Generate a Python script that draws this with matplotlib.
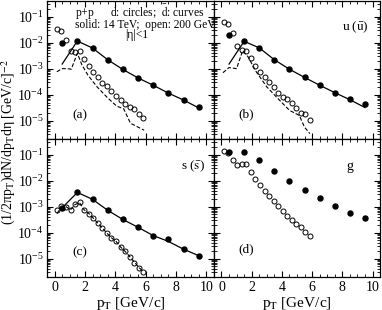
"""d / dbar / u / s / g spectra in p+p, 14 TeV vs 200 GeV"""

import numpy as np
import matplotlib
matplotlib.use("Agg")
import matplotlib.pyplot as plt
from matplotlib.ticker import LogLocator, MultipleLocator, NullFormatter

plt.rcParams["font.family"] = ["Liberation Serif", "DejaVu Serif"]
plt.rcParams["mathtext.fontset"] = "stix"

# pT grids
pt_lhc = [0.5, 1.5, 2.5, 3.5, 4.5, 5.5, 6.5, 7.5, 8.5, 9.5]
pt_rhic = [0.15, 0.45, 0.75, 1.05, 1.35, 1.65, 1.95, 2.25, 2.55, 2.85,
           3.15, 3.45, 3.75, 4.05, 4.35, 4.65, 4.95, 5.25, 5.55, 5.85]

# (a) d / dbar
a_d14 = [1.0e-2, 1.15e-2, 6.2e-3, 2.2e-3, 9.3e-4, 4.4e-4, 2.3e-4, 1.2e-4, 6.4e-5, 3.4e-5]
a_dbar14 = [1.5e-3, 1.15e-2, 6.2e-3, 2.2e-3, 9.3e-4, 4.4e-4, 2.3e-4, 1.15e-4, 6.2e-5, 3.1e-5]
a_d200 = [3.3e-2, 2.9e-2, 1.3e-2, 4.8e-3, 4.5e-3, 4.9e-3, 2.3e-3, 1.26e-3, 7.6e-4, 4.6e-4,
          2.7e-4, 2.1e-4, 1.35e-4, 8.7e-5, 6.1e-5, 4.3e-5, 3.4e-5, 2.7e-5, 1.85e-5, 1.27e-5]
a_dbar200_pt = [0.15, 0.5, 0.85, 1.1, 1.5, 1.8, 2.2, 2.8, 3.45, 4.1, 4.55, 5.0, 5.9]
a_dbar200 = [7.6e-4, 1.0e-3, 1.0e-3, 9.5e-4, 3.9e-3, 1.4e-3, 5.6e-4, 2.0e-4, 8.0e-5,
             3.6e-5, 2.9e-5, 8.0e-6, 4.3e-6]

# (b) u / ubar
b_u14 = [2.0e-2, 1.12e-2, 6.3e-3, 2.2e-3, 9.5e-4, 4.6e-4, 2.3e-4, 1.2e-4, 6.6e-5, 4.4e-5]
b_ubar14 = [1.5e-3, 1.12e-2, 6.3e-3, 2.2e-3, 9.5e-4, 4.6e-4, 2.3e-4, 1.2e-4, 6.4e-5, 3.2e-5]
b_u200 = [6.2e-2, 5.4e-2, 2.3e-2, 7.4e-3, 5.1e-3, 4.9e-3, 2.6e-3, 1.26e-3, 7.6e-4, 4.7e-4,
          3.0e-4, 1.9e-4, 1.2e-4, 7.8e-5, 6.8e-5, 4.8e-5, 3.2e-5, 2.0e-5, 1.8e-5, 1.1e-5]
b_ubar200_pt = [0.1, 0.5, 1.0, 1.4, 1.75, 2.3, 3.0, 3.65, 4.5, 5.15, 5.5, 5.85]
b_ubar200 = [7.0e-4, 1.1e-3, 1.0e-3, 4.9e-3, 2.9e-3, 7.6e-4, 2.0e-4, 8.0e-5, 2.5e-5,
             1.6e-5, 5.6e-6, 3.2e-6]

# (c) s / sbar
c_s14 = [9.1e-4, 3.5e-3, 1.9e-3, 7.2e-4, 3.2e-4, 1.6e-4, 7.7e-5, 5.6e-5, 2.3e-5, 1.3e-5]
c_sbar14 = [9.0e-4, 3.5e-3, 1.9e-3, 7.2e-4, 3.2e-4, 1.6e-4, 7.7e-5, 4.6e-5, 2.3e-5, 1.3e-5]
c_s200 = [7.6e-4, 1.1e-3, 1.0e-3, 7.2e-4, 1.3e-3, 1.45e-3, 7.2e-4, 5.4e-4, 3.6e-4, 2.3e-4,
          1.5e-4, 9.5e-5, 6.3e-5, 4.7e-5, 2.7e-5, 1.9e-5, 1.2e-5, 7.1e-6, 4.5e-6, 3.2e-6]
c_sbar200 = [5.5e-4, 9.0e-4, 1.0e-3, 7.5e-4, 1.2e-3, 1.4e-3, 7.5e-4, 5.5e-4, 3.6e-4, 2.3e-4,
             1.5e-4, 9.5e-5, 6.3e-5, 4.6e-5, 2.8e-5, 1.9e-5, 1.2e-5, 7.5e-6, 4.6e-6, 3.2e-6]

# (d) gluons
d_g14 = [1.3e-1, 1.2e-1, 6.2e-2, 2.3e-2, 9.6e-3, 4.4e-3, 2.1e-3, 1.1e-3, 5.9e-4, 3.6e-4]
d_g200 = [1.4e-1, 1.1e-1, 6.4e-2, 4.0e-2, 4.2e-2, 4.2e-2, 2.1e-2, 1.2e-2, 6.9e-3, 4.0e-3,
          2.5e-3, 1.65e-3, 1.05e-3, 6.8e-4, 4.5e-4, 3.1e-4, 2.2e-4, 1.6e-4, 1.04e-4, 7.3e-5]

fig = plt.figure(figsize=(3.82, 3.10), dpi=100)
w_l, w_r, h = 0.437, 0.435, 0.445
ax_a = fig.add_axes([0.123, 0.552, w_l, h])
ax_b = fig.add_axes([0.560, 0.552, w_r, h])
ax_c = fig.add_axes([0.123, 0.107, w_l, h])
ax_d = fig.add_axes([0.560, 0.107, w_r, h])

filled = dict(ls="none", marker="o", ms=3.6, mfc="black", mec="black")
hollow = dict(ls="none", marker="o", ms=3.6, mfc="none", mec="black", mew=0.7)
solid = dict(color="black", lw=0.9)
dashed = dict(color="black", lw=0.8, ls=(0, (3.5, 1.8)))

ax_a.plot(pt_lhc, a_dbar14, **solid)
ax_a.plot(a_dbar200_pt, a_dbar200, **dashed)
ax_a.plot(pt_lhc, a_d14, **filled)
ax_a.plot(pt_rhic, a_d200, **hollow)

ax_b.plot(pt_lhc, b_ubar14, **solid)
ax_b.plot(b_ubar200_pt, b_ubar200, **dashed)
ax_b.plot(pt_lhc, b_u14, **filled)
ax_b.plot(pt_rhic, b_u200, **hollow)

ax_c.plot(pt_lhc, c_sbar14, **solid)
ax_c.plot(pt_rhic, c_sbar200, **dashed)
ax_c.plot(pt_lhc, c_s14, **filled)
ax_c.plot(pt_rhic, c_s200, **hollow)

ax_d.plot(pt_lhc, d_g14, **filled)
ax_d.plot(pt_rhic, d_g200, **hollow)

for ax in (ax_a, ax_b, ax_c, ax_d):
    ax.set_yscale("log")
    ax.set_xlim(-0.5, 10.5)
    ax.set_ylim(2e-6, 0.4)
    ax.xaxis.set_major_locator(MultipleLocator(2))
    ax.xaxis.set_minor_locator(MultipleLocator(0.5))
    ax.yaxis.set_major_locator(LogLocator(base=10, numticks=12))
    ax.yaxis.set_minor_locator(LogLocator(base=10, subs=np.arange(2, 10), numticks=12))
    ax.yaxis.set_minor_formatter(NullFormatter())
    ax.tick_params(which="both", direction="in", top=True, right=True, labelsize=10)
    ax.tick_params(which="major", length=4, width=0.8)
    ax.tick_params(which="minor", length=2, width=0.6)
    ax.tick_params(axis="x", pad=3)
    ax.tick_params(axis="y", pad=2.5)
    for s in ax.spines.values():
        s.set_linewidth(0.9)

for ax in (ax_a, ax_b):
    ax.tick_params(labelbottom=False)
for ax in (ax_b, ax_d):
    ax.tick_params(labelleft=False)
for ax in (ax_c, ax_d):
    ax.set_xlabel("p$_\\mathrm{T}$ [GeV/c]", fontsize=11)
    ax.xaxis.set_label_coords(0.5, -0.19)
    ax.xaxis.label.set_va("center")

fig.text(0.024, 0.543, "(1/2πp$_\\mathrm{T}$)dN/dp$_\\mathrm{T}$dη [GeV/c]$^{-2}$",
         rotation=90, ha="center", va="center", fontsize=10)

# annotations
txt = dict(fontsize=8.3, transform=ax_a.transAxes, va="center")
ax_a.text(0.165, 0.92, "p+p      d: circles;  $\\bar{\\mathrm{d}}$: curves", **txt)
ax_a.text(0.165, 0.826, "solid: 14 TeV;  open: 200 GeV", **txt)
ax_a.text(0.47, 0.75, "|η|<1", **txt)

ax_b.text(0.77, 0.81, "u ($\\bar{\\mathrm{u}}$)", transform=ax_b.transAxes, fontsize=9.5, va="center")
ax_c.text(0.80, 0.80, "s ($\\bar{\\mathrm{s}}$)", transform=ax_c.transAxes, fontsize=9.5, va="center")
ax_d.text(0.80, 0.80, "g", transform=ax_d.transAxes, fontsize=10, va="center")

ax_a.text(0.15, 0.17, "(a)", transform=ax_a.transAxes, fontsize=9.5, va="center")
ax_b.text(0.15, 0.18, "(b)", transform=ax_b.transAxes, fontsize=9.5, va="center")
ax_c.text(0.15, 0.18, "(c)", transform=ax_c.transAxes, fontsize=9.5, va="center")
ax_d.text(0.15, 0.20, "(d)", transform=ax_d.transAxes, fontsize=9.5, va="center")

fig.savefig("out.png", dpi=100)
